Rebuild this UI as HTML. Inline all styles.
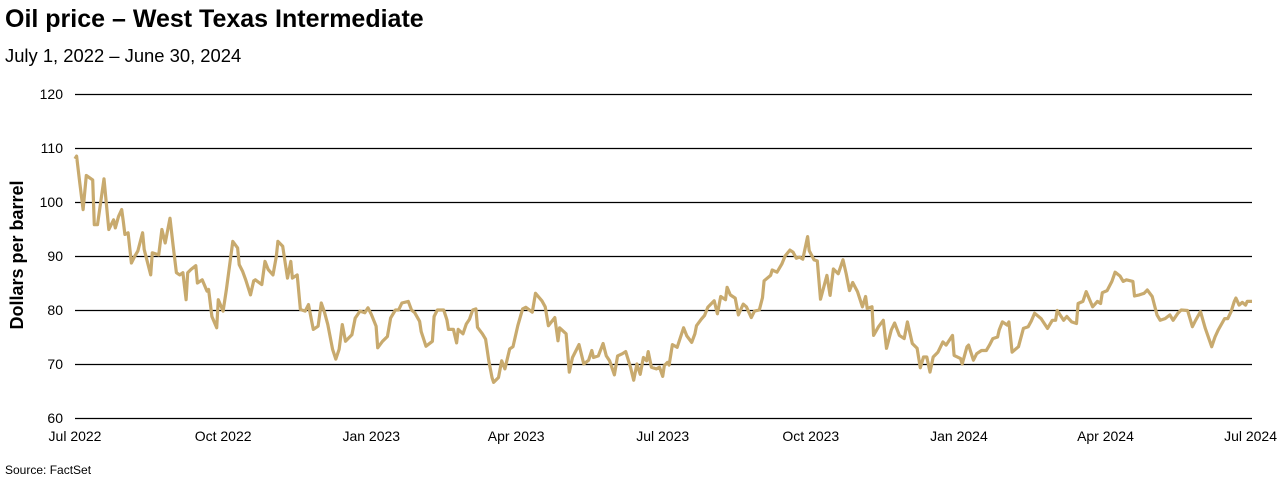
<!DOCTYPE html>
<html><head><meta charset="utf-8"><style>
body{margin:0;background:#fff;width:1280px;height:482px;overflow:hidden;font-family:"Liberation Sans",sans-serif}
</style></head><body>
<svg id="chart" width="1280" height="482" xmlns="http://www.w3.org/2000/svg" font-family="Liberation Sans, sans-serif">
<text x="5" y="27" font-size="25" font-weight="bold" fill="#000">Oil price – West Texas Intermediate</text>
<text x="5" y="62" font-size="18.4" fill="#000">July 1, 2022 – June 30, 2024</text>
<text transform="translate(23,255) rotate(-90)" text-anchor="middle" font-size="18" font-weight="bold" fill="#000">Dollars per barrel</text>
<text x="5" y="474" font-size="12" fill="#000">Source: FactSet</text>
<g id="grid"></g><g id="xt"></g><path id="line" fill="none" stroke="#c8aa6e" stroke-width="3.2" stroke-linejoin="round"/>
</svg>
<script>
const days=[0,1,3,5,7,11,12,14,18,21,24,25,27,29,30,31,33,35,37,39,42,43,47,48,52,54,56,59,61,63,65,67,69,70,72,75,76,79,82,83,85,88,89,92,94,98,101,102,104,106,109,111,112,116,118,120,123,125,126,129,132,134,135,138,140,143,145,147,148,151,153,155,157,160,162,164,166,168,172,174,177,180,182,184,187,188,191,194,196,199,201,203,207,209,211,214,215,218,222,223,225,229,231,232,235,237,238,
241,243,245,247,249,250,253,255,257,259,260,263,265,267,270,272,275,278,280,284,286,290,292,294,298,300,301,305,307,309,313,316,319,321,322,325,328,330,332,335,337,340,342,345,347,349,351,353,355,356,358,361,363,365,366,368,369,371,374,378,380,383,385,386,389,391,393,396,397,399,401,404,405,407,410,412,415,417,420,422,425,427,428,432,433,436,439,441,444,446,448,450,452,455,456,459,461,463,465,467,469,471,474,477,479,481,483,
486,489,491,492,495,496,499,502,504,507,509,512,515,517,520,523,525,527,529,531,533,536,539,541,545,546,550,551,554,555,558,560,563,566,568,570,573,574,576,579,580,582,586,589,592,594,596,600,604,607,609,610,614,616,619,622,623,626,628,632,635,637,638,641,644,646,649,651,653,657,658,661,664,666,669,672,674,677,680,682,685,687,691,694,696,699,702,706,708,710,714,716,718,720,721,723,725,727,728,731];
const prices=[108,108.5,103.5,98.6,104.9,104.1,95.8,95.8,104.3,94.9,96.7,95.2,97.3,98.6,96.4,94,94.3,88.7,89.9,90.9,94.3,91.2,86.5,90.6,90.2,94.9,92.4,97,91.8,86.9,86.5,86.9,81.9,86.9,87.5,88.2,85,85.6,83.5,83.8,78.8,76.7,81.9,79.8,83.8,92.7,91.5,88.4,87.2,85.6,82.8,85.4,85.6,84.7,89,87.5,86.5,89.9,92.7,91.8,85.9,89,85.9,86.5,80.1,79.8,81,77.9,76.4,77,81.3,79.5,77.3,72.7,70.9,72.7,77.3,74.2,75.4,78.5,79.8,79.5,80.4,79.2,77,73,74.2,75.1,78.5,80,80,81.3,81.6,80,79.5,77.9,76,73.3,74.2,78.8,80,80,78.2,76.4,76.4,73.9,76.4,
75.6,77.4,78.3,80,80.2,76.8,75.6,74.6,70.6,67.5,66.6,67.5,70.6,69.1,72.8,73.2,77.1,80.2,80.5,79.6,83.1,81.7,80.6,77.1,78.6,74.3,76.7,75.6,68.5,71.2,73.6,70,70.7,72.5,71.2,71.5,73.8,71.5,70.6,68,71.5,71.9,72.3,69.4,67,70,68.1,71.2,70.6,72.3,69.4,69.1,69.4,67.7,69.7,70.3,69.8,73.6,73.1,76.7,75.2,74,75.6,77.1,78.3,79,80.5,81.4,81.7,79.3,82.5,81.9,84.2,82.8,82.2,79.1,81.1,80.6,78.6,79.8,80,82.3,85.4,86.4,87.4,87,88.5,90,91.1,90.7,89.6,89.8,89.4,93.6,91,89.3,89.1,82,84.2,86.4,82.7,87.6,86.7,89.3,86.7,83.6,85.1,
83.4,80.6,82.5,80.3,80.6,75.3,76.9,78.1,72.9,76.3,77.6,75.3,74.7,77.8,73.8,72.9,69.3,71.3,71.3,68.5,71.3,72.2,74.1,73.5,75.3,71.6,71,70,73.2,73.5,70.7,71.9,72.5,72.5,73.5,74.7,75,76.3,77.8,77.2,77.8,72.2,73.2,76.6,76.9,78,79.4,78.4,76.6,78.1,78.1,79.9,78.1,78.8,77.8,77.5,81.2,81.6,83.4,80.6,81.6,81.2,83.2,83.6,85.3,87,86.3,85.3,85.6,85.3,82.6,82.8,83.1,83.7,82.5,79.1,78.1,78.4,79.1,78.1,79.4,80,79.9,76.9,78.1,79.7,76.6,73.2,75,76.3,78.4,78.4,79.7,81.6,82.2,80.9,81.4,80.9,81.6,81.6];
const yTicks=[60,70,80,90,100,110,120];
const xTickDays=[0,92,184,274,365,457,549,640,731];
const xTickLabels=["Jul 2022","Oct 2022","Jan 2023","Apr 2023","Jul 2023","Oct 2023","Jan 2024","Apr 2024","Jul 2024"];
const X0=75,X1=1252,Y0=418,Y1=94,D0=0,D1=731,V0=60,V1=120;
const xs=d=>X0+(d-D0)/(D1-D0)*(X1-X0);
const ys=v=>Y0-(v-V0)/(V1-V0)*(Y0-Y1);
const NS="http://www.w3.org/2000/svg";
const grid=document.getElementById('grid'),xt=document.getElementById('xt');
yTicks.forEach(v=>{
 const l=document.createElementNS(NS,'line');
 
 
 const y=Math.round(ys(v))+0.5;
 l.setAttribute('x1',X0);l.setAttribute('x2',X1);l.setAttribute('y1',y);l.setAttribute('y2',y);
 l.setAttribute('stroke','#000');l.setAttribute('stroke-width','1.3');grid.appendChild(l);
 const t=document.createElementNS(NS,'text');
 
 
 t.setAttribute('x',63);t.setAttribute('y',ys(v)+5);t.setAttribute('text-anchor','end');t.setAttribute('font-size','14');
 t.textContent=v;grid.appendChild(t);
});
xTickDays.forEach((d,i)=>{
 const t=document.createElementNS(NS,'text');
 
 
 let x=xs(d),anchor='middle';
 if(i==xTickDays.length-1){x=1277;anchor='end';}
 t.setAttribute('x',x);t.setAttribute('y',441);t.setAttribute('text-anchor',anchor);t.setAttribute('font-size','14');
 t.textContent=xTickLabels[i];xt.appendChild(t);
});
document.getElementById('line').setAttribute('d',days.map((d,i)=>(i?'L':'M')+xs(d).toFixed(1)+','+ys(prices[i]).toFixed(1)).join(''));
</script>
</body></html>
